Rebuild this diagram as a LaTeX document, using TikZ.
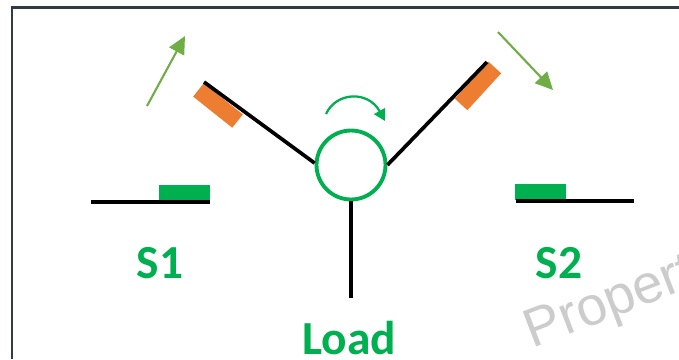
\documentclass[tikz,border=0pt]{standalone}
\usepackage{fontspec}
\setmainfont{Carlito}
\newfontfamily\markfont{Liberation Sans}
\usepackage{xcolor}
\usetikzlibrary{arrows.meta}
\definecolor{padgreen}{HTML}{00B050}
\definecolor{padorange}{HTML}{ED7D31}
\definecolor{movegreen}{HTML}{70AD47}
\definecolor{framegray}{HTML}{333A45}
\tikzset{
  contact/.style={fill=padorange,minimum width=1cm,minimum height=.34cm,inner sep=0pt},
  seat/.style={fill=padgreen,minimum width=1.02cm,minimum height=.32cm,inner sep=0pt},
  lbl/.style={text=padgreen,font=\fontsize{27}{27}\selectfont\bfseries,inner sep=0pt},
  wire/.style={draw=black,line width=2.1pt},
  move/.style={draw=movegreen,line width=1.2pt,-{Triangle[length=10pt,width=9.5pt]}}
}
\begin{document}
\begin{tikzpicture}[x=.02cm,y=-.02cm]
\useasboundingbox (0,0) rectangle (679,359);
\coordinate (FA) at (12,359);
\coordinate (FB) at (12,7.5);
\coordinate (FC) at (679,7.5);
\draw[framegray,line width=1.4pt] (FA) -- (FB) -- (FC);
% watermark
\node[text=black!20,font=\fontsize{31}{31}\selectfont\markfont,rotate=21,anchor=base west,inner sep=0pt] (mark) at (532,349) {Propert};
% contacts
\node[contact,rotate=-38.5] (C1) at (218,105.5) {};
\node[contact,rotate=47.5] (C2) at (478,86) {};
\node[seat] (P1) at (184.5,193) {};
\node[seat] (P2) at (540.5,191.5) {};
% hub and wires
\node[draw=padgreen,line width=2.2pt,circle,minimum size=1.38cm,inner sep=0pt] (hub) at (351,165) {};
\coordinate (A1) at (204,82);
\coordinate (A2) at (487,62);
\coordinate (A3) at (351,298);
\path[wire]
(hub.177) edge (A1)
(hub.east) edge (A2)
(hub.south) edge (A3);
\coordinate (L1) at (91,202);
\coordinate (R1) at (209.5,202);
\coordinate (L2) at (516,201);
\coordinate (R2) at (634,201);
\path[wire]
(L1) edge (R1)
(L2) edge (R2);
% motion arrows
\coordinate (M1) at (147,106);
\coordinate (M2) at (185,36);
\coordinate (M3) at (498,32);
\coordinate (M4) at (553,90);
\draw[move] (M1) -- (M2);
\draw[move] (M3) -- (M4);
\coordinate (T1) at (326,114);
\coordinate (T2) at (385,121);
\draw[draw=padgreen,line width=1.3pt,-{Triangle[length=6.5pt,width=7pt]}] (T1) .. controls (336,92) and (368,90) .. (T2);
% labels
\node[lbl] (S1) at (160,263) {S1};
\node[lbl] (S2) at (559,263) {S2};
\node[lbl] (Load) at (349,338) {Load};
\end{tikzpicture}
\end{document}
